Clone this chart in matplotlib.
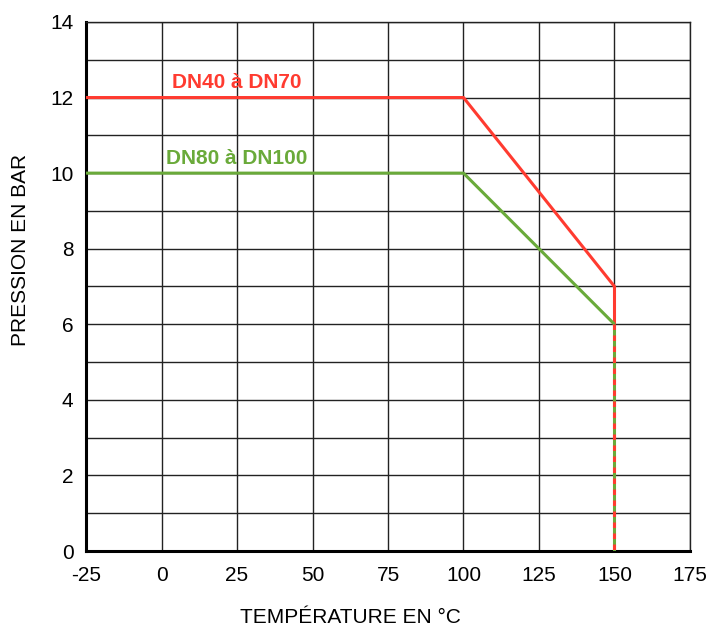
import numpy as np
import matplotlib
import matplotlib.pyplot as plt

plt.rcParams['font.family'] = ['Liberation Sans', 'DejaVu Sans']
plt.rcParams['axes.unicode_minus'] = False

# courbes pression / température
temp_dn40 = [-25, 100, 150, 150]
pres_dn40 = [12, 12, 7, 6]
temp_dn80 = [-25, 100, 150]
pres_dn80 = [10, 10, 6]
# partie commune en pointillés
temp_common = [150, 150]
pres_common = [6, 0]

xticks = [-25, 0, 25, 50, 75, 100, 125, 150, 175]
yticks = [0, 2, 4, 6, 8, 10, 12, 14]

red = '#FF3B30'
green = '#6AAA3A'

fig = plt.figure(figsize=(7.09, 6.26), dpi=100)
ax = fig.add_axes([0.1213, 0.1198, 0.8519, 0.8451])

ax.set_xlim(-25, 175)
ax.set_ylim(0, 14)
ax.set_xticks(xticks)
ax.set_yticks(yticks)
ax.set_yticks(np.arange(0, 15, 1), minor=True)
ax.grid(True, which='both', color='#222222', linewidth=1.0)
ax.set_axisbelow(True)
ax.tick_params(which='both', length=0, labelsize=15)
ax.tick_params(axis='x', pad=11)
ax.tick_params(axis='y', pad=9)

for s in ['top', 'right']:
    ax.spines[s].set_linewidth(1.0)
    ax.spines[s].set_color('#222222')
for s in ['left', 'bottom']:
    ax.spines[s].set_linewidth(2.2)
    ax.spines[s].set_color('black')

ax.plot(temp_dn40, pres_dn40, color=red, linewidth=2.2, solid_capstyle='butt', clip_on=False, zorder=3)
ax.plot(temp_dn80, pres_dn80, color=green, linewidth=2.2, solid_capstyle='butt', clip_on=False, zorder=3)
ax.plot(temp_common, pres_common, color=green, linewidth=2.2, solid_capstyle='butt', zorder=3)
ax.plot(temp_common, pres_common, color=red, linewidth=2.2, linestyle=(0, (1.8, 1.8)), solid_capstyle='butt', zorder=4)

ax.text(25, 12.4, 'DN40 à DN70', color=red, fontsize=15, fontweight='bold', ha='center', va='center')
ax.text(25, 10.4, 'DN80 à DN100', color=green, fontsize=15, fontweight='bold', ha='center', va='center')

ax.set_xlabel('TEMPÉRATURE EN °C', fontsize=15)
ax.set_ylabel('PRESSION EN BAR', fontsize=15)
ax.xaxis.set_label_coords(0.437, -0.125)
ax.yaxis.set_label_coords(-0.109, 0.569)
ax.xaxis.label.set_va('center')
ax.yaxis.label.set_va('center')

fig.savefig('out.png', dpi=100)
